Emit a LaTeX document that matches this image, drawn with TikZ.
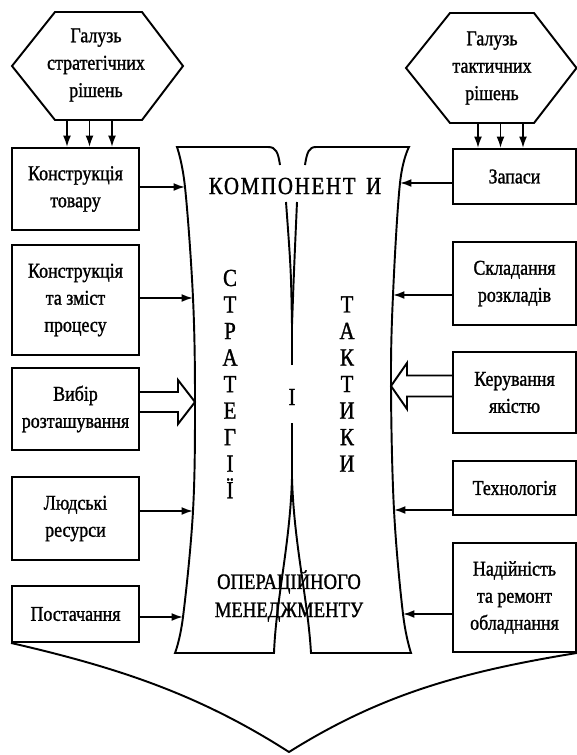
\documentclass[tikz,border=0pt]{standalone}
\usepackage{fontspec}
\setmainfont{Liberation Serif}[FakeStretch=0.85, FakeBold=1.2]
\usetikzlibrary{arrows.meta,calc}

\begin{document}
\begin{tikzpicture}[x=0.02cm, y=-0.02cm, line width=1.1pt,
    lbox/.style={rectangle, draw, align=center, minimum width=2.54cm, font=\fontsize{12}{15.4}\selectfont},
    rbox/.style={lbox, minimum width=2.46cm},
    hexlabel/.style={align=center, font=\fontsize{12}{15.6}\selectfont},
    caps/.style={align=center, font=\fontsize{14}{15.1}\selectfont},
    link/.style={-{Latex[length=6.5pt,width=4.5pt]}, line width=1pt},
    fat/.style={line join=miter}]
    \useasboundingbox (0,0) rectangle (576,755);

    % Decision areas
    \node[hexlabel] (sdec) at (96,65) {Галузь\\стратегічних\\рішень};
    \draw (12,66) -- (55,12) -- (142,12) -- (183,66) -- (142,120) -- (55,120) -- cycle;
    \node[hexlabel] (tdec) at (492,68) {Галузь\\тактичних\\рішень};
    \draw (406,68) -- (450,13) -- (534,13) -- (576.5,68) -- (534,123) -- (450,123) -- cycle;

    % Strategy components
    \node[lbox, minimum height=1.64cm] (b1) at (75.5,189) {Конструкція\\товару};
    \node[lbox, minimum height=2.2cm] (b2) at (75.5,300) {Конструкція\\та зміст\\процесу};
    \node[lbox, minimum height=1.64cm] (b3) at (75.5,409) {Вибір\\розташування};
    \node[lbox, minimum height=1.66cm] (b4) at (75.5,518.5) {Людські\\ресурси};
    \node[lbox, minimum height=1.12cm] (b5) at (75.5,614) {Постачання};

    % Tactics components
    \node[rbox, minimum height=1.1cm] (r1) at (514.5,176.5) {Запаси};
    \node[rbox, minimum height=1.66cm] (r2) at (514.5,283.5) {Складання\\розкладів};
    \node[rbox, minimum height=1.62cm] (r3) at (514.5,392.5) {Керування\\якістю};
    \node[rbox, minimum height=1.08cm] (r4) at (514.5,488) {Технологія};
    \node[rbox, minimum height=2.18cm] (r5) at (514.5,597.5) {Надійність\\та ремонт\\обладнання};

    % Central scroll
    \coordinate (L0) at (177,147);
    \coordinate (L1) at (185,187);
    \coordinate (L2) at (193,298);
    \coordinate (L3) at (195,402);
    \coordinate (L4) at (193,511);
    \coordinate (L5) at (183,617);
    \coordinate (L6) at (175,653);
    \coordinate (R0) at (409,147);
    \coordinate (R1) at (400,183);
    \coordinate (R2) at (393,295);
    \coordinate (R3) at (391,386);
    \coordinate (R4) at (394,510);
    \coordinate (R5) at (403,614);
    \coordinate (R6) at (411,653);
    \draw (280,165) .. controls (278,152) and (276,147) .. (268,147) -- (L0)
        -- plot[smooth, tension=0.6] coordinates {(L0) (L1) (L2) (L3) (L4) (L5) (L6)}
        -- (274,653) .. controls (276,600) and (290,545) .. (292,478);
    \draw (305,165) .. controls (307,152) and (309,147) .. (316,147) -- (R0)
        -- plot[smooth, tension=0.6] coordinates {(R0) (R1) (R2) (R3) (R4) (R5) (R6)}
        -- (311,653) .. controls (308,600) and (294,545) .. (292,478);
    \draw (292,478) -- (292,423);
    \draw (292,365) -- (292,325);
    \draw (292,325) .. controls (291,270) .. (286,202);
    \draw (292,325) .. controls (294,270) .. (297,202);

    \node[caps] (komp) at (295,186) {\addfontfeature{LetterSpace=7}КОМПОНЕНТ\hspace{2pt} И};
    \node[caps] (strat) at (230,384) {С\\Т\\Р\\А\\Т\\Е\\Г\\І\\Ї};
    \node[caps] (conj) at (292,397) {І};
    \node[caps] (takt) at (347,384) {Т\\А\\К\\Т\\И\\К\\И};
    \node[align=center, font=\fontsize{12.5}{16}\selectfont] (opm) at (289,596) {ОПЕРАЦІЙНОГО\\МЕНЕДЖМЕНТУ};

    % Arrows
    \coordinate (sbot) at (89.5,120);
    \coordinate (tbot) at (500.5,123);
    \foreach \dx in {-22.5,0,22.5} {
        \path (sbot) ++(\dx,0) coordinate (t);
        \draw[link] (t) -- (t |- b1.north);
        \path (tbot) ++(\dx,0) coordinate (t);
        \draw[link] (t) -- (t |- r1.north);
    }
    \foreach \b/\p in {b1/L1, b2/L2, b4/L4, b5/L5} {
        \draw[link] (\b.east |- \p) -- (\p);
    }
    \foreach \b/\p in {r1/R1, r2/R2, r4/R4, r5/R5} {
        \draw[link] (\b.west |- \p) -- (\p);
    }
    \coordinate (f3) at (b3.east |- L3);
    \draw[fat] ($(f3)+(0,-10)$) -| ($(L3)+(-17,-22)$) -- (L3) -- ($(L3)+(-17,22)$) |- ($(f3)+(0,10)$);
    \coordinate (g3) at (r3.west |- R3);
    \draw[fat] ($(g3)+(0,-10.5)$) -| ($(R3)+(16,-23)$) -- (R3) -- ($(R3)+(16,23)$) |- ($(g3)+(0,10.5)$);

    % Brace
    \coordinate (apex) at (289,752);
    \draw (b5.south west) .. controls (120,668) and (200,695) .. (apex)
        .. controls (380,695) and (460,672) .. (r5.south east);
\end{tikzpicture}
\end{document}
